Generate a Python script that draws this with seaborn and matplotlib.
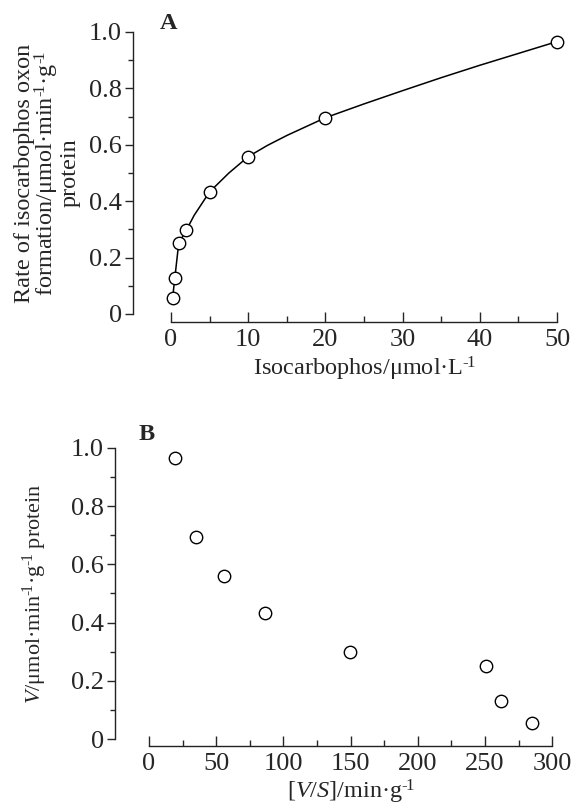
import numpy as np
import pandas as pd
import seaborn as sns
import matplotlib.pyplot as plt
from matplotlib.ticker import MultipleLocator, FuncFormatter

# panel A: substrate vs rate
conc = [0.2, 0.5, 1, 2, 5, 10, 20, 50]
rate = [0.055, 0.129, 0.251, 0.298, 0.433, 0.558, 0.696, 0.966]

# fitted curve
curve_x = [0.2, 0.5, 1, 2, 3, 5, 7.5, 10, 12.5, 15, 20, 25, 30, 35, 40, 45, 50]
curve_y = [0.055, 0.129, 0.251, 0.298, 0.35, 0.433, 0.50, 0.558, 0.598, 0.633,
           0.696, 0.745, 0.792, 0.838, 0.882, 0.924, 0.966]

# panel B: Eadie-Hofstee
vs = [19.1, 34.7, 56.0, 86.6, 149.3, 250.7, 261.7, 284.7]
v = [0.964, 0.695, 0.560, 0.434, 0.298, 0.250, 0.130, 0.056]

sns.set_style("ticks")
plt.rcParams['font.family'] = ['Liberation Serif', 'DejaVu Serif']
plt.rcParams['mathtext.fontset'] = 'custom'
plt.rcParams['mathtext.rm'] = 'Liberation Serif'
plt.rcParams['mathtext.it'] = 'Liberation Serif:italic'
plt.rcParams['mathtext.bf'] = 'Liberation Serif:bold'
fs = 19
lfs = 17.5
inv = "$^{\u2010\\!1}$"

fig = plt.figure(figsize=(5.71, 8.1), dpi=100)
axA = fig.add_axes([171 / 571, (810 - 314) / 810, 386 / 571, 282 / 810])
axB = fig.add_axes([149 / 571, (810 - 739.3) / 810, 403.3 / 571, 291.6 / 810])

dfA = pd.DataFrame({"x": conc, "y": rate})
dfC = pd.DataFrame({"x": curve_x, "y": curve_y})
dfB = pd.DataFrame({"x": vs, "y": v})

sns.lineplot(data=dfC, x="x", y="y", ax=axA, color="black", lw=1.1, sort=True)
sns.scatterplot(data=dfA, x="x", y="y", ax=axA, s=80, facecolor="white",
                edgecolor="black", linewidth=1.0, zorder=3, clip_on=False)
sns.scatterplot(data=dfB, x="x", y="y", ax=axB, s=80, facecolor="white",
                edgecolor="black", linewidth=1.0, zorder=3, clip_on=False)

yfmt = FuncFormatter(lambda val, pos: "0" if abs(val) < 1e-9 else f"{val:.1f}")

for ax, xmax, lo, bo, xmaj, xmin in [(axA, 50, 27.4, 5.8, 10, 5), (axB, 300, 24.5, 4.6, 50, 25)]:
    ax.set_xlim(0, xmax)
    ax.set_ylim(0, 1.0)
    for s in ["top", "right"]:
        ax.spines[s].set_visible(False)
    ax.spines["left"].set_position(("outward", lo))
    ax.spines["bottom"].set_position(("outward", bo))
    for s in ["left", "bottom"]:
        ax.spines[s].set_linewidth(1.0)
        ax.spines[s].set_color("#222222")
    ax.xaxis.set_major_locator(MultipleLocator(xmaj))
    ax.xaxis.set_minor_locator(MultipleLocator(xmin))
    ax.yaxis.set_major_locator(MultipleLocator(0.2))
    ax.yaxis.set_minor_locator(MultipleLocator(0.1))
    ax.yaxis.set_major_formatter(yfmt)
    ax.tick_params(axis="y", which="major", direction="out", length=6, width=1, labelsize=fs, pad=2)
    ax.tick_params(axis="y", which="minor", direction="out", length=3.5, width=1)
    ax.tick_params(axis="x", which="major", direction="in", length=7, width=1, labelsize=fs, pad=5)
    ax.tick_params(axis="x", which="minor", direction="in", length=4, width=1)

axA.set_xlabel("Isocarbophos/μmol·L" + inv, fontsize=lfs, labelpad=3)
axA.set_ylabel("Rate of isocarbophos oxon\nformation/μmol·min" + inv + "·g" + inv + "\nprotein",
               fontsize=lfs, linespacing=0.9, labelpad=6)
axB.set_xlabel("[$V$/$S$]/min·g" + inv, fontsize=lfs, labelpad=2)
axB.set_ylabel("$V$/μmol·min" + inv + "·g" + inv + " protein", fontsize=16, labelpad=16)

axA.text(-0.028, 1.03, "A", transform=axA.transAxes, fontsize=lfs, fontweight="bold", va="center")
axB.text(-0.027, 1.044, "B", transform=axB.transAxes, fontsize=lfs, fontweight="bold", va="center")

fig.savefig("out.png", dpi=100)
